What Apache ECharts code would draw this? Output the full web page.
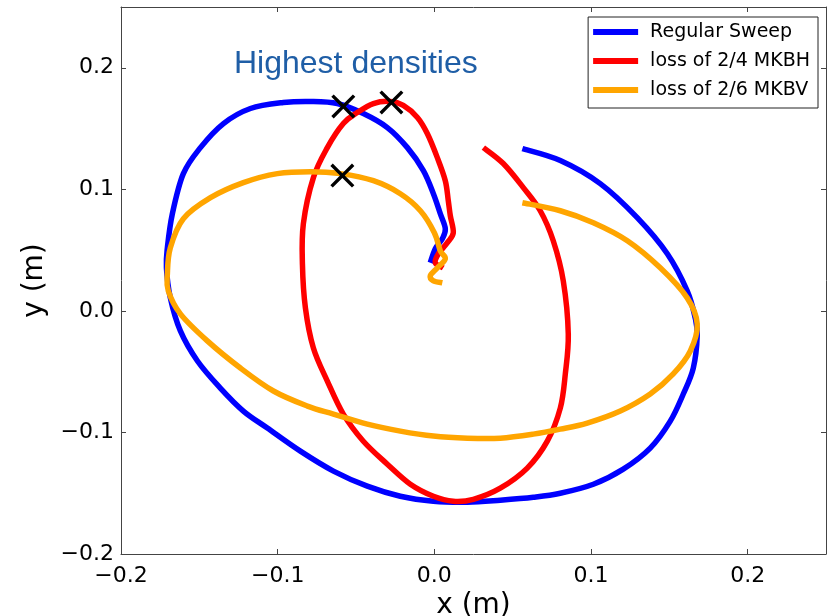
<!DOCTYPE html>
<html>
<head>
<meta charset="utf-8">
<script src="https://cdn.jsdelivr.net/npm/echarts@6/dist/echarts.min.js"></script>
<style>
  html, body { margin: 0; padding: 0; background: #fff; }
  #chart { width: 828px; height: 616px; }
</style>
</head>
<body>
<div id="chart"></div>
<script>
// Trajectories in the x-y plane (metres), one [x, y] pair per sample
const regularSweep = [
  [0.0562, 0.1335], [0.0804, 0.1237], [0.1059, 0.1047], [0.1295, 0.0767],
  [0.1487, 0.0470], [0.1614, 0.0165], [0.1665, -0.0058], [0.1678, -0.0206],
  [0.1653, -0.0470], [0.1589, -0.0684], [0.1506, -0.0907], [0.1378, -0.1129],
  [0.1206, -0.1302], [0.1015, -0.1426], [0.0804, -0.1500], [0.0632, -0.1533],
  [0.0421, -0.1557], [0.0211, -0.1574], [-0.0006, -0.1566], [-0.0217, -0.1525],
  [-0.0428, -0.1442], [-0.0644, -0.1318], [-0.0855, -0.1154], [-0.1066, -0.0964],
  [-0.1219, -0.0824], [-0.1366, -0.0635], [-0.1512, -0.0412], [-0.1621, -0.0165],
  [-0.1685, 0.0107], [-0.1710, 0.0354], [-0.1704, 0.0519], [-0.1672, 0.0800],
  [-0.1602, 0.1129], [-0.1493, 0.1343], [-0.1346, 0.1541], [-0.1174, 0.1665],
  [-0.0964, 0.1714], [-0.0791, 0.1723], [-0.0619, 0.1706], [-0.0453, 0.1623],
  [-0.0300, 0.1508], [-0.0172, 0.1343], [-0.0070, 0.1154], [-0.0006, 0.0964],
  [0.0038, 0.0800], [0.0070, 0.0676], [0.0051, 0.0594], [0.0006, 0.0511],
  [-0.0026, 0.0396]
];

const loss24MKBH = [
  [0.0313, 0.1343], [0.0440, 0.1212], [0.0568, 0.1014], [0.0676, 0.0824],
  [0.0759, 0.0577], [0.0823, 0.0247], [0.0855, -0.0190],
  [0.0836, -0.0519], [0.0804, -0.0800], [0.0721, -0.1072],
  [0.0593, -0.1294], [0.0421, -0.1459], [0.0249, -0.1550], [0.0121, -0.1566],
  [-0.0006, -0.1525], [-0.0153, -0.1426], [-0.0300, -0.1261], [-0.0453, -0.1072],
  [-0.0581, -0.0849], [-0.0683, -0.0577], [-0.0772, -0.0305], [-0.0823, 0.0025],
  [-0.0842, 0.0387], [-0.0836, 0.0717], [-0.0772, 0.1096], [-0.0683, 0.1343],
  [-0.0581, 0.1541], [-0.0491, 0.1632], [-0.0389, 0.1706], [-0.0281, 0.1723],
  [-0.0198, 0.1690], [-0.0108, 0.1591], [-0.0045, 0.1459], [0.0019, 0.1261],
  [0.0070, 0.1071], [0.0089, 0.0907], [0.0102, 0.0783], [0.0121, 0.0643],
  [0.0083, 0.0561], [0.0026, 0.0470], [0.0006, 0.0396], [0.0057, 0.0354]
];

const loss26MKBV = [
  [0.0562, 0.0890], [0.0804, 0.0824], [0.1015, 0.0725], [0.1232, 0.0577],
  [0.1442, 0.0354], [0.1614, 0.0107], [0.1678, -0.0107], [0.1634, -0.0330],
  [0.1525, -0.0519], [0.1378, -0.0684], [0.1187, -0.0824], [0.0976, -0.0923],
  [0.0804, -0.0973], [0.0632, -0.1014], [0.0421, -0.1047], [0.0211, -0.1047],
  [-0.0006, -0.1030], [-0.0217, -0.0989], [-0.0428, -0.0931], [-0.0644, -0.0849],
  [-0.0810, -0.0783], [-0.1027, -0.0659], [-0.1238, -0.0470], [-0.1449, -0.0247],
  [-0.1621, -0.0025], [-0.1698, 0.0165], [-0.1704, 0.0305], [-0.1685, 0.0519],
  [-0.1602, 0.0758], [-0.1429, 0.0931], [-0.1219, 0.1055], [-0.1002, 0.1129],
  [-0.0791, 0.1145], [-0.0600, 0.1129], [-0.0389, 0.1071], [-0.0217, 0.0964],
  [-0.0089, 0.0824], [0.0000, 0.0643], [0.0038, 0.0495], [0.0070, 0.0429],
  [0.0019, 0.0354], [-0.0026, 0.0289], [-0.0006, 0.0247], [0.0051, 0.0231]
];

// Points of highest density, marked with crosses
const densityPeaks = [[-0.0581, 0.1682], [-0.0274, 0.1715], [-0.0587, 0.1113]];

const seriesNames = ['Regular Sweep', 'loss of 2/4 MKBH', 'loss of 2/6 MKBV'];
const seriesColors = ['#0000ff', '#ff0000', '#ffa500'];
const annotation = 'Highest densities';

const axisMin = -0.2, axisMax = 0.25, axisStep = 0.1;
const tickFont = 'DejaVu Sans';

function tickLabel(v) {
  if (Math.abs(v - axisMax) < 1e-9) return '';
  const s = Math.abs(v).toFixed(1);
  return v < -1e-9 ? '\u2212' + s : s;
}

const frameColor = '#444';

function makeAxis(dim, position, primary) {
  const ax = {
    type: 'value',
    position: position,
    min: axisMin,
    max: axisMax,
    interval: axisStep,
    splitLine: { show: false },
    axisLine: { show: true, onZero: false, lineStyle: { color: frameColor, width: 1 } },
    axisTick: { show: true, inside: true, length: 5, lineStyle: { color: frameColor, width: 1 } },
    axisLabel: { show: primary }
  };
  if (primary) {
    ax.axisLabel = {
      show: true,
      formatter: tickLabel,
      fontFamily: tickFont,
      fontSize: 22,
      color: '#000',
      margin: dim === 'x' ? 11 : 7,
      showMaxLabel: false
    };
    ax.name = dim === 'x' ? 'x (m)' : 'y (m)';
    ax.nameLocation = 'middle';
    ax.nameGap = dim === 'x' ? 35 : 72;
    ax.nameTextStyle = { fontFamily: tickFont, fontSize: 28, color: '#000' };
  }
  return ax;
}

// Draws a whole trajectory as one smooth Catmull-Rom curve through its samples,
// with every sample placed through the cartesian axes (api.coord).
function trajectoryRenderer(points, color) {
  return function (params, api) {
    if (params.dataIndex !== 0) return null;
    const p = points.map(d => api.coord(d));
    const n = p.length;
    let d = 'M' + p[0][0].toFixed(2) + ',' + p[0][1].toFixed(2);
    for (let i = 0; i < n - 1; i++) {
      const p0 = p[Math.max(i - 1, 0)], p1 = p[i], p2 = p[i + 1], p3 = p[Math.min(i + 2, n - 1)];
      const c1x = p1[0] + (p2[0] - p0[0]) / 6, c1y = p1[1] + (p2[1] - p0[1]) / 6;
      const c2x = p2[0] - (p3[0] - p1[0]) / 6, c2y = p2[1] - (p3[1] - p1[1]) / 6;
      d += 'C' + c1x.toFixed(2) + ',' + c1y.toFixed(2) + ' ' + c2x.toFixed(2) + ',' +
        c2y.toFixed(2) + ' ' + p2[0].toFixed(2) + ',' + p2[1].toFixed(2);
    }
    return {
      type: 'path',
      shape: { pathData: d },
      style: { fill: 'none', stroke: color, lineWidth: 5.5, lineCap: 'butt', lineJoin: 'round' },
      silent: true
    };
  };
}

const chart = echarts.init(document.getElementById('chart'), null, { renderer: 'canvas' });

const trajectories = [regularSweep, loss24MKBH, loss26MKBV];
const curveSeries = trajectories.map((d, i) => ({
  name: seriesNames[i],
  type: 'custom',
  data: d,
  encode: { x: 0, y: 1 },
  renderItem: trajectoryRenderer(d, seriesColors[i]),
  itemStyle: { color: seriesColors[i] },
  clip: true,
  z: 2 + i
}));

chart.setOption({
  backgroundColor: '#fff',
  animation: false,
  grid: { left: 121, right: 2, top: 7, bottom: 62, containLabel: false, outerBoundsMode: 'none' },
  xAxis: [makeAxis('x', 'bottom', true), makeAxis('x', 'top', false)],
  yAxis: [makeAxis('y', 'left', true), makeAxis('y', 'right', false)],
  legend: {
    data: seriesNames,
    orient: 'vertical',
    right: 10,
    top: 17,
    padding: [4, 8, 7, 5],
    itemGap: 7,
    itemWidth: 45,
    itemHeight: 6,
    icon: 'rect',
    borderColor: '#222',
    borderWidth: 1,
    borderRadius: 0,
    backgroundColor: '#fff',
    textStyle: { fontFamily: tickFont, fontSize: 19, color: '#000', lineHeight: 22, padding: [0, 0, 0, 7] }
  },
  graphic: [{
    type: 'text',
    left: 234,
    top: 48,
    style: {
      text: annotation,
      fontFamily: 'Liberation Sans',
      fontSize: 32,
      fill: '#1f5ea6'
    },
    z: 10
  }],
  series: curveSeries.concat([{
    name: 'peaks',
    type: 'scatter',
    data: densityPeaks,
    // filled X outline, arms about 3px thick at this size
    symbol: 'path://M0,10L10,0L50,40L90,0L100,10L60,50L100,90L90,100L50,60L10,100L0,90L40,50Z',
    symbolSize: 24,
    itemStyle: { color: '#000', borderWidth: 0, opacity: 1 },
    z: 10,
    silent: true
  }])
});
</script>
</body>
</html>
